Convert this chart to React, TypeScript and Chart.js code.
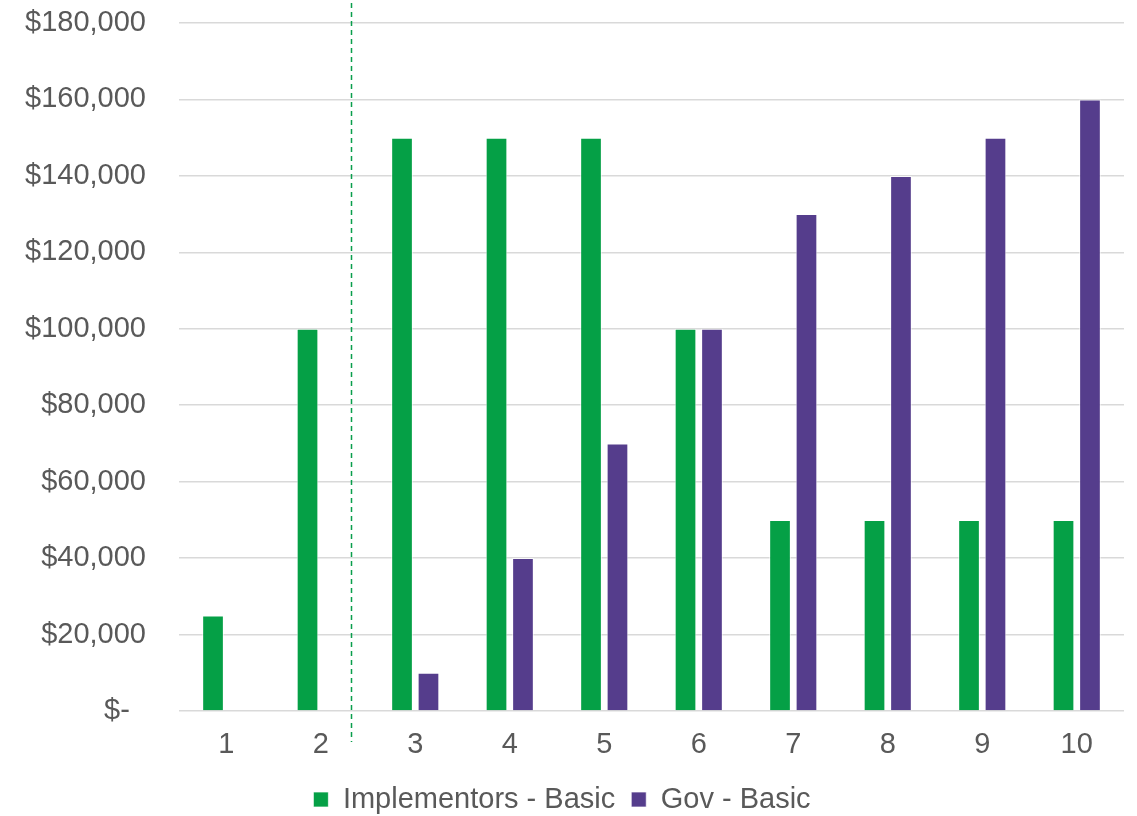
import React, { useEffect, useRef } from "react";
import { Chart, registerables } from "chart.js";

Chart.register(...registerables);

const categories = ["1", "2", "3", "4", "5", "6", "7", "8", "9", "10"];
const implementorsBasic = [25000, 100000, 150000, 150000, 150000, 100000, 50000, 50000, 50000, 50000];
const govBasic = [null, null, 10000, 40000, 70000, 100000, 130000, 140000, 150000, 160000];
const yTickValues = [0, 20000, 40000, 60000, 80000, 100000, 120000, 140000, 160000, 180000];
const dividerAt = 1.32; // marker just after year 2

const GREEN = "#05a046";
const PURPLE = "#553d8c";
const TEXT = "#595959";
const FONT = "'Liberation Sans', Arial, sans-serif";

const formatMoney = (v: number) =>
  v === 0 ? "$-  " : "$" + v.toLocaleString("en-US");

const dividerPlugin = {
  id: "divider",
  afterDatasetsDraw(chart: any) {
    const { ctx, scales } = chart;
    const x = Math.round(scales.x.getPixelForValue(dividerAt)) + 0.5;
    ctx.save();
    ctx.strokeStyle = "#0a9e4c";
    ctx.lineWidth = 1.5;
    ctx.setLineDash([5, 4]);
    ctx.beginPath();
    ctx.moveTo(x, 3);
    ctx.lineTo(x, scales.y.bottom + 31);
    ctx.stroke();
    ctx.restore();
  },
};

export default function App() {
  const canvasRef = useRef<HTMLCanvasElement | null>(null);

  useEffect(() => {
    document.body.style.margin = "0";
    const canvas = canvasRef.current;
    if (!canvas) return;
    const chart = new Chart(canvas, {
      type: "bar",
      data: {
        labels: categories,
        datasets: [
          {
            label: "Implementors - Basic",
            data: implementorsBasic,
            backgroundColor: GREEN,
            borderColor: "rgba(255,255,255,0.7)",
            borderWidth: 1,
            categoryPercentage: 0.56,
            barPercentage: 0.82,
          },
          {
            label: "Gov - Basic",
            data: govBasic as any,
            backgroundColor: PURPLE,
            borderColor: "rgba(255,255,255,0.7)",
            borderWidth: 1,
            categoryPercentage: 0.56,
            barPercentage: 0.82,
          },
        ],
      },
      options: {
        animation: false,
        responsive: false,
        maintainAspectRatio: false,
        layout: { padding: { top: 23, right: 13, bottom: 0, left: 0 } },
        scales: {
          x: {
            grid: { display: false, drawTicks: false },
            border: { display: false },
            ticks: {
              color: TEXT,
              font: { family: FONT, size: 29 },
              padding: 17,
            },
            afterFit(scale: any) {
              scale.height = 58;
            },
          },
          y: {
            min: 0,
            max: 180000,
            afterBuildTicks(scale: any) {
              scale.ticks = yTickValues.map((v) => ({ value: v }));
            },
            grid: {
              color: "#d9d9d9",
              lineWidth: 1.5,
              drawTicks: true,
              tickLength: 33,
              tickColor: "rgba(0,0,0,0)",
            },
            border: { display: false },
            ticks: {
              color: TEXT,
              font: { family: FONT, size: 29 },
              padding: 0,
              callback: (v: any) => formatMoney(Number(v)),
            },
            afterFit(scale: any) {
              scale.width = 179;
            },
          },
        },
        plugins: {
          legend: {
            position: "bottom",
            labels: {
              color: TEXT,
              font: { family: FONT, size: 29 },
              boxWidth: 15,
              boxHeight: 15,
              padding: 16,
            },
          },
          tooltip: { enabled: false },
        },
      },
      plugins: [dividerPlugin],
    });
    return () => chart.destroy();
  }, []);

  return (
    <div style={{ width: 1137, height: 816, overflow: "hidden", background: "#fff" }}>
      <canvas ref={canvasRef} width={1137} height={824} style={{ display: "block" }} />
    </div>
  );
}
